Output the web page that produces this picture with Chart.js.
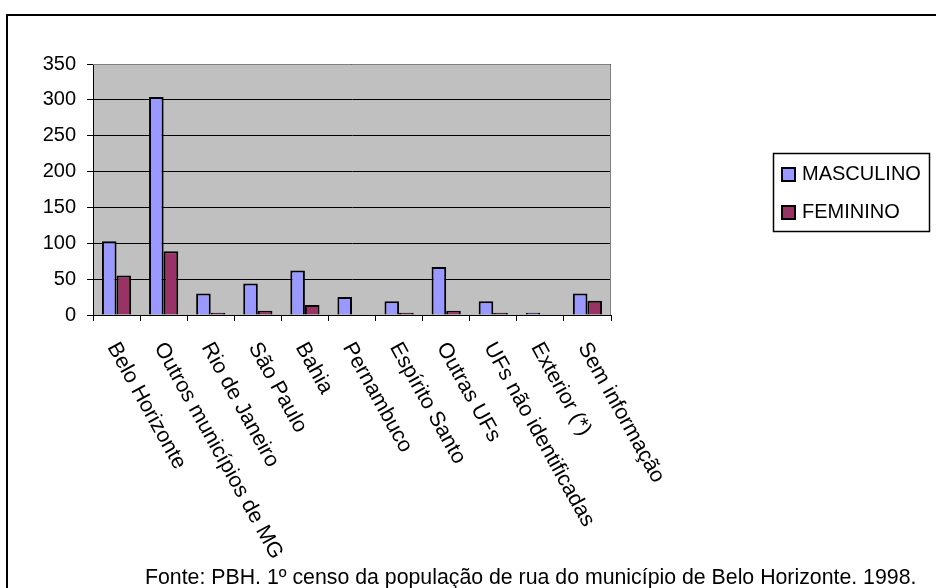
<!DOCTYPE html>
<html>
<head>
<meta charset="utf-8">
<script src="https://cdn.jsdelivr.net/npm/chart.js@4"></script>
<style>
  body { margin: 0; background: #fff; }
  canvas { display: block; }
</style>
</head>
<body>
<canvas id="grafico" width="936" height="588"></canvas>
<script>
// dados do gráfico
const categorias = ['Belo Horizonte', 'Outros municípios de MG', 'Rio de Janeiro', 'São Paulo', 'Bahia',
  'Pernambuco', 'Espírito Santo', 'Outras UFs', 'UFs não identificadas', 'Exterior (*)', 'Sem informação'];
const masculino = [103, 304, 30, 44, 62, 25, 19, 67, 19, 3, 30];
const feminino = [55, 89, 3, 6, 14, 0, 3, 6, 3, 0, 20];
const serieNomes = ['MASCULINO', 'FEMININO'];
const eixoY = { min: 0, max: 350, passo: 50 };
const fonte = 'Fonte: PBH. 1º censo da população de rua do município de Belo Horizonte. 1998.';

const FAMILIA = "'Liberation Sans', Arial, sans-serif";
const corM = '#9999FF';
const corF = '#993366';

// fundo, moldura, rótulos girados, legenda e fonte
const extras = {
  id: 'extras',
  beforeDraw(chart) {
    const { ctx, chartArea: a } = chart;
    ctx.save();
    ctx.fillStyle = '#fff';
    ctx.fillRect(0, 0, chart.width, chart.height);
    ctx.fillStyle = '#C0C0C0';
    ctx.fillRect(a.left, a.top, a.right - a.left, a.bottom - a.top);
    ctx.restore();
  },
  beforeDatasetsDraw(chart) {
    const { ctx, chartArea: a } = chart;
    ctx.save();
    ctx.strokeStyle = '#808080';
    ctx.lineWidth = 1;
    ctx.beginPath();
    ctx.moveTo(a.left, a.top + 0.5);
    ctx.lineTo(a.right - 0.5, a.top + 0.5);
    ctx.lineTo(a.right - 0.5, a.bottom);
    ctx.stroke();
    ctx.restore();
  },
  afterDraw(chart) {
    const { ctx } = chart;
    const x = chart.scales.x;
    ctx.save();
    // moldura externa
    ctx.strokeStyle = '#000';
    ctx.lineWidth = 2;
    ctx.beginPath();
    ctx.moveTo(7, 588);
    ctx.lineTo(7, 15);
    ctx.lineTo(936, 15);
    ctx.stroke();

    // rótulos das categorias
    ctx.fillStyle = '#000';
    ctx.font = '21.5px ' + FAMILIA;
    ctx.textAlign = 'left';
    ctx.textBaseline = 'top';
    categorias.forEach((c, i) => {
      const px = x.getPixelForValue(i);
      ctx.save();
      ctx.translate(px + 5, x.top + 24);
      ctx.rotate(61 * Math.PI / 180);
      ctx.fillText(c, 0, 0);
      ctx.restore();
    });

    // legenda
    ctx.lineWidth = 1.5;
    ctx.strokeStyle = '#000';
    ctx.strokeRect(773.5, 153.5, 156, 78);
    [corM, corF].forEach((cor, i) => {
      const y = 167 + i * 38;
      ctx.fillStyle = cor;
      ctx.fillRect(781, y, 15, 15);
      ctx.lineWidth = 2;
      ctx.strokeRect(782, y + 1, 13, 13);
      ctx.fillStyle = '#000';
      ctx.font = '20px ' + FAMILIA;
      ctx.textBaseline = 'alphabetic';
      ctx.fillText(serieNomes[i], 802, y + 13);
    });

    // fonte
    ctx.font = '21.3px ' + FAMILIA;
    ctx.textBaseline = 'alphabetic';
    ctx.fillText(fonte, 145, 584);
    ctx.restore();
  }
};

const grafico = new Chart(document.getElementById('grafico'), {
  type: 'bar',
  data: {
    labels: categorias,
    datasets: [{
      label: serieNomes[0],
      data: masculino,
      backgroundColor: corM,
      borderColor: '#000',
      borderWidth: 2,
      borderSkipped: 'bottom'
    }, {
      label: serieNomes[1],
      data: feminino,
      backgroundColor: corF,
      borderColor: '#000',
      borderWidth: 2,
      borderSkipped: 'bottom'
    }]
  },
  options: {
    responsive: false,
    animation: false,
    devicePixelRatio: 1,
    layout: { padding: { top: 64, right: 325, left: 0, bottom: 0 } },
    datasets: { bar: { categoryPercentage: 0.62, barPercentage: 1.0 } },
    plugins: {
      legend: { display: false },
      tooltip: { enabled: false }
    },
    scales: {
      x: {
        offset: true,
        grid: { offset: true, drawOnChartArea: false, drawTicks: true, tickLength: 6, color: '#000' },
        border: { display: true, color: '#000', width: 1 },
        ticks: { display: false },
        afterFit(s) { s.height = 588 - 315; }
      },
      y: {
        min: eixoY.min,
        max: eixoY.max,
        ticks: {
          stepSize: eixoY.passo,
          color: '#000',
          padding: 11,
          font: { family: FAMILIA, size: 20 }
        },
        grid: { color: '#000', tickColor: '#000', tickLength: 6, lineWidth: 1 },
        border: { display: true, color: '#000', width: 1 },
        afterFit(s) { s.width = 93; }
      }
    }
  },
  plugins: [extras]
});
</script>
</body>
</html>
